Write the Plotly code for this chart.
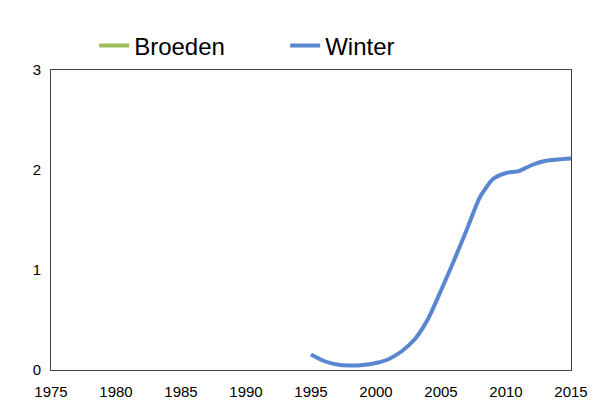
import plotly.graph_objects as go

years = list(range(1995, 2016))
winter = [0.155, 0.09, 0.055, 0.045, 0.05, 0.07, 0.11, 0.19, 0.31, 0.51, 0.795,
          1.095, 1.41, 1.73, 1.91, 1.97, 1.99, 2.05, 2.09, 2.105, 2.115]
broeden_years = []
broeden = []

x_ticks = list(range(1975, 2016, 5))
y_ticks = [0, 1, 2, 3]

fig = go.Figure()
fig.add_trace(go.Scatter(x=broeden_years if broeden_years else [None],
                         y=broeden if broeden else [None],
                         mode="lines", name="Broeden",
                         line=dict(color="#9BBB59", width=4)))
fig.add_trace(go.Scatter(x=years, y=winter, mode="lines", name="Winter",
                         line=dict(color="#5887D0", width=4, shape="spline", smoothing=0.6)))

fig.update_layout(
    width=600, height=400,
    margin=dict(l=51, r=29, t=70, b=30, autoexpand=False),
    paper_bgcolor="white", plot_bgcolor="white",
    font=dict(family="Liberation Sans, Arial, sans-serif", size=15, color="black"),
    showlegend=True,
    legend=dict(orientation="h", x=0.083, xanchor="left", y=1.08, yanchor="middle",
                font=dict(size=24), entrywidth=146, entrywidthmode="pixels",
                bgcolor="rgba(0,0,0,0)"),
    xaxis=dict(range=[1975, 2015], tickvals=x_ticks, showgrid=False, zeroline=False,
               showline=True, linecolor="#404040", linewidth=1, mirror=True,
               ticks="outside", ticklen=8, tickcolor="rgba(0,0,0,0)", automargin=False),
    yaxis=dict(range=[0, 3], tickvals=y_ticks, showgrid=False, zeroline=False,
               showline=True, linecolor="#404040", linewidth=1, mirror=True,
               ticks="outside", ticklen=6, tickcolor="rgba(0,0,0,0)", automargin=False),
)

fig.write_html("out.html", config={"displayModeBar": False},
               post_script="document.body.style.margin='0';")
